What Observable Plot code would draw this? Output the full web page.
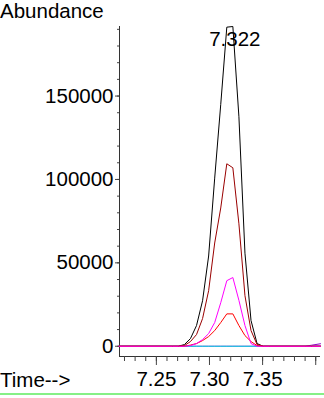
<!DOCTYPE html>
<html>
<head>
<meta charset="utf-8">
<script src="https://cdn.jsdelivr.net/npm/d3@7"></script>
<script src="https://cdn.jsdelivr.net/npm/@observablehq/plot@0.6"></script>
<style>
  html, body { margin: 0; padding: 0; background: #fff; }
  #wrap { position: relative; width: 324px; height: 398px; overflow: hidden; font-family: "Liberation Sans", Arial, sans-serif; }
  #wrap svg { position: absolute; left: 0; top: 0; }
  .lbl { position: absolute; font-size: 20.5px; line-height: 20.5px; color: #000; white-space: nowrap; }
  #green { position: absolute; left: 0; top: 393px; width: 324px; height: 2px; background: #86f086; }
</style>
</head>
<body>
<div id="wrap">
  <div class="lbl" id="ylab" style="left:0px; top:1px;">Abundance</div>
  <div class="lbl" id="xlab" style="left:0px; top:370px;">Time--&gt;</div>
  <div id="green"></div>
</div>
<script>
// Retention times (min) of the scans
const times    = [7.2150, 7.2650, 7.2707, 7.2764, 7.2821, 7.2878, 7.2935, 7.2992, 7.3049, 7.3106, 7.3163, 7.3220, 7.3277, 7.3334, 7.3391, 7.3448, 7.3505, 7.3562, 7.3900, 7.3960, 7.4045];
// Abundances per trace
const black    = [0, 0, 0, 1000, 4600, 12400, 27300, 54100, 100800, 145000, 191300, 191700, 137600, 55800, 15400, 1600, 0, 0, 0, 0, 0];
const darkRed  = [0, 0, 0, 400, 2800, 7000, 16600, 33300, 61900, 82900, 109400, 107000, 73400, 30300, 9400, 1000, 0, 0, 0, 0, 0];
const magenta  = [0, 0, 0, 0, 400, 1600, 4000, 7600, 14200, 26100, 39300, 41200, 27500, 12400, 1600, 0, 0, 0, 0, 0, 0];
const red      = [0, 0, 0, 0, 700, 1600, 3400, 5800, 9400, 14200, 19400, 19400, 12400, 6400, 2800, 400, 0, 0, 0, 0, 0];
const cyan     = [0, 0, 0, 0, 0, 0, 0, 0, 0, 0, 0, 0, 0, 0, 0, 0, 0, 0, 0, 0, 0];
const purple   = [0, 0, 0, 0, 0, 0, 0, 0, 0, 0, 0, 0, 0, 0, 0, 0, 0, 0, 0, 600, 1500];

// drawing order: first is at the bottom
const seriesNames  = ["purple", "cyan", "black", "darkRed", "red", "magenta"];
const seriesValues = [purple, cyan, black, darkRed, red, magenta];
const seriesColors = ["#8a00c8", "#00e5e5", "#000000", "#990000", "#ff0000", "#ff00ff"];

// Axis ticks
const yMajorTicks = [0, 50000, 100000, 150000];
const yMinorTicks = [0, 10000, 20000, 30000, 40000, 50000, 60000, 70000, 80000, 90000, 100000, 110000, 120000, 130000, 140000, 150000, 160000, 170000, 180000, 190000];
const xMajorTicks = [7.25, 7.30, 7.35, 7.40];
const xLabelTicks = [7.25, 7.30, 7.35];
const xMinorTicks = [7.22, 7.23, 7.24, 7.25, 7.26, 7.27, 7.28, 7.29, 7.30, 7.31, 7.32, 7.33, 7.34, 7.35, 7.36, 7.37, 7.38, 7.39, 7.40];

// Peak annotation
const peakTimes  = [7.322];
const peakLabels = ["7.322"];
const peakValues = [191700];

const xDomain = [7.2153, 7.4045];
const yDomain = [-6150, 191700];

const lineMarks = seriesNames.map((name, i) => {
  const rows = times.map((t, j) => ({t, v: seriesValues[i][j]}));
  return Plot.line(rows, {x: "t", y: "v", stroke: seriesColors[i], strokeWidth: 1});
});

const peakRows = peakTimes.map((t, i) => ({t, v: peakValues[i], label: peakLabels[i]}));

const chart = Plot.plot({
  width: 324,
  height: 398,
  marginLeft: 119,
  marginRight: 4,
  marginTop: 26,
  marginBottom: 42,
  style: {fontFamily: "'Liberation Sans', Arial, sans-serif", fontSize: "20.5px", background: "transparent", color: "#000"},
  x: {domain: xDomain, label: null},
  y: {domain: yDomain, label: null},
  marks: [
    Plot.ruleX([xDomain[0]], {stroke: "#333"}),
    Plot.ruleY([yDomain[0]], {stroke: "#333"}),
    Plot.axisY(yMinorTicks, {tickSize: 2, tickFormat: () => "", stroke: "#444"}),
    Plot.axisY(yMajorTicks, {tickSize: 4, tickPadding: 2, tickFormat: d => String(d), stroke: "#444"}),
    Plot.axisX(xMinorTicks, {tickSize: 5, tickFormat: () => "", stroke: "#444"}),
    Plot.axisX(xMajorTicks, {tickSize: 9, tickFormat: () => "", stroke: "#444"}),
    Plot.axisX(xLabelTicks, {tickSize: 0, tickPadding: 15, tickFormat: d => d.toFixed(2)}),
    ...lineMarks,
    Plot.text(peakRows, {x: "t", y: "v", text: "label", textAnchor: "middle", lineAnchor: "bottom", dy: 19, dx: 2, fill: "#000"})
  ]
});
document.getElementById("wrap").prepend(chart);
</script>
</body>
</html>
